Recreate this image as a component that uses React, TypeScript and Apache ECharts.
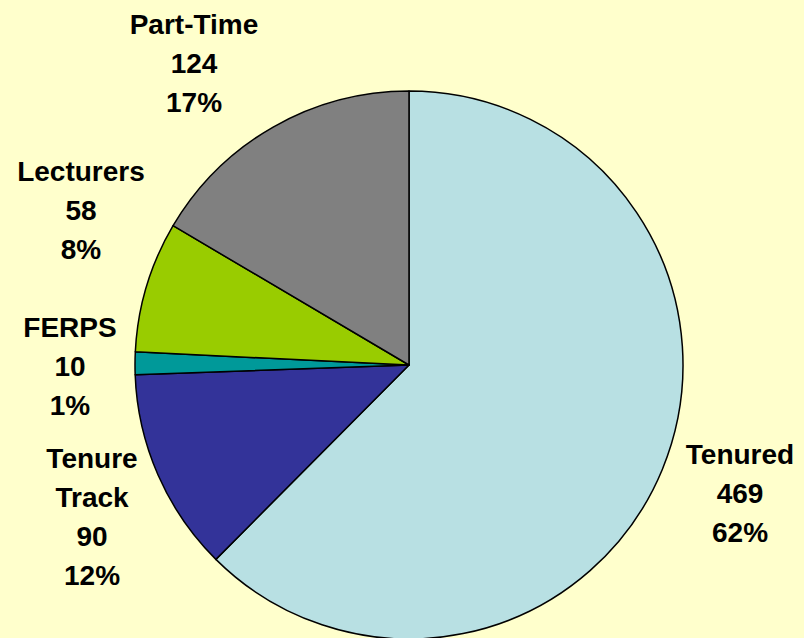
import React, { useEffect, useRef } from "react";
import * as echarts from "echarts";

const categories = ["Tenured", "Tenure Track", "FERPS", "Lecturers", "Part-Time"];
const values = [469, 90, 10, 58, 124];
const colors = ["#B8E0E3", "#333399", "#009999", "#99CC00", "#808080"];
// label block centres (layout only)
const labelPos: [number, number][] = [
  [740, 493],
  [92, 517],
  [70, 366],
  [81, 210],
  [194, 63],
];

export default function App() {
  const ref = useRef<HTMLDivElement>(null);
  useEffect(() => {
    if (!ref.current) return;
    const chart = echarts.init(ref.current, null, { renderer: "svg" });
    chart.setOption({
      animation: false,
      backgroundColor: "#FFFFCC",
      series: [
        {
          type: "pie",
          center: [409, 365],
          radius: 274,
          startAngle: 90,
          clockwise: true,
          percentPrecision: 0,
          avoidLabelOverlap: false,
          itemStyle: { borderColor: "#000000", borderWidth: 1.5 },
          label: {
            show: true,
            position: "outside",
            formatter: (p: any) => `${p.name.replace(" ", "\n")}\n${p.value}\n${p.percent}%`,
            fontFamily: "Liberation Sans, Arial, sans-serif",
            fontWeight: "bold",
            fontSize: 28,
            lineHeight: 39,
            color: "#000000",
            align: "center",
          },
          labelLine: { show: false },
          labelLayout: (params: any) => {
            const p = labelPos[params.dataIndex];
            return { x: p[0], y: p[1], align: "center", verticalAlign: "middle" };
          },
          data: categories.map((c, i) => ({
            name: c,
            value: values[i],
            itemStyle: { color: colors[i] },
          })),
        },
      ],
    });
    return () => chart.dispose();
  }, []);
  return (
    <div
      ref={ref}
      style={{ position: "fixed", left: 0, top: 0, width: 804, height: 638 }}
    />
  );
}
